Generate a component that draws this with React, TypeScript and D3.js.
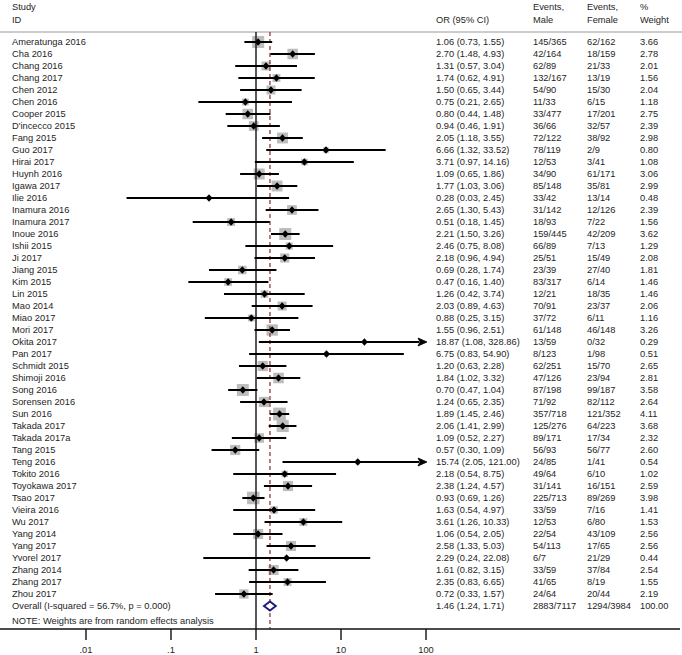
import * as d3 from "d3";
import { useEffect, useRef } from "react";

const studies = [
  "Ameratunga 2016", "Cha 2016", "Chang 2016", "Chang 2017", "Chen 2012", "Chen 2016",
  "Cooper 2015", "D'incecco 2015", "Fang 2015", "Guo 2017", "Hirai 2017", "Huynh 2016",
  "Igawa 2017", "Ilie 2016", "Inamura 2016", "Inamura 2017", "Inoue 2016", "Ishii 2015",
  "Ji 2017", "Jiang 2015", "Kim 2015", "Lin 2015", "Mao 2014", "Miao 2017", "Mori 2017",
  "Okita 2017", "Pan 2017", "Schmidt 2015", "Shimoji 2016", "Song 2016", "Sorensen 2016",
  "Sun 2016", "Takada 2017", "Takada 2017a", "Tang 2015", "Teng 2016", "Tokito 2016",
  "Toyokawa 2017", "Tsao 2017", "Vieira 2016", "Wu 2017", "Yang 2014", "Yang 2017",
  "Yvorel 2017", "Zhang 2014", "Zhang 2017", "Zhou 2017",
];

const oddsRatio = [
  1.06, 2.70, 1.31, 1.74, 1.50, 0.75, 0.80, 0.94, 2.05, 6.66, 3.71, 1.09, 1.77, 0.28, 2.65,
  0.51, 2.21, 2.46, 2.18, 0.69, 0.47, 1.26, 2.03, 0.88, 1.55, 18.87, 6.75, 1.20, 1.84, 0.70,
  1.24, 1.89, 2.06, 1.09, 0.57, 15.74, 2.18, 2.38, 0.93, 1.63, 3.61, 1.06, 2.58, 2.29, 1.61,
  2.35, 0.72,
];
const ciLow = [
  0.73, 1.48, 0.57, 0.62, 0.65, 0.21, 0.44, 0.46, 1.18, 1.32, 0.97, 0.65, 1.03, 0.03, 1.30,
  0.18, 1.50, 0.75, 0.96, 0.28, 0.16, 0.42, 0.89, 0.25, 0.96, 1.08, 0.83, 0.63, 1.02, 0.47,
  0.65, 1.45, 1.41, 0.52, 0.30, 2.05, 0.54, 1.24, 0.69, 0.54, 1.26, 0.54, 1.33, 0.24, 0.82,
  0.83, 0.33,
];
const ciHigh = [
  1.55, 4.93, 3.04, 4.91, 3.44, 2.65, 1.48, 1.91, 3.55, 33.52, 14.16, 1.86, 3.06, 2.45, 5.43,
  1.45, 3.26, 8.08, 4.94, 1.74, 1.40, 3.74, 4.63, 3.15, 2.51, 328.86, 54.90, 2.28, 3.32, 1.04,
  2.35, 2.46, 2.99, 2.27, 1.09, 121.00, 8.75, 4.57, 1.26, 4.97, 10.33, 2.05, 5.03, 22.08, 3.15,
  6.65, 1.57,
];
const eventsMale = [
  "145/365", "42/164", "62/89", "132/167", "54/90", "11/33", "33/477", "36/66", "72/122",
  "78/119", "12/53", "34/90", "85/148", "33/42", "31/142", "18/93", "159/445", "66/89",
  "25/51", "23/39", "83/317", "12/21", "70/91", "37/72", "61/148", "13/59", "8/123",
  "62/251", "47/126", "87/198", "71/92", "357/718", "125/276", "89/171", "56/93", "24/85",
  "49/64", "31/141", "225/713", "33/59", "12/53", "22/54", "54/113", "6/7", "33/59",
  "41/65", "24/64",
];
const eventsFemale = [
  "62/162", "18/159", "21/33", "13/19", "15/30", "6/15", "17/201", "32/57", "38/92", "2/9",
  "3/41", "61/171", "35/81", "13/14", "12/126", "7/22", "42/209", "7/13", "15/49", "27/40",
  "6/14", "18/35", "23/37", "6/11", "46/148", "0/32", "1/98", "15/70", "23/94", "99/187",
  "82/112", "121/352", "64/223", "17/34", "56/77", "1/41", "6/10", "16/151", "89/269",
  "7/16", "6/80", "43/109", "17/65", "21/29", "37/84", "8/19", "20/44",
];
const weights = [
  3.66, 2.78, 2.01, 1.56, 2.04, 1.18, 2.75, 2.39, 2.98, 0.80, 1.08, 3.06, 2.99, 0.48, 2.39,
  1.56, 3.62, 1.29, 2.08, 1.81, 1.46, 1.46, 2.06, 1.16, 3.26, 0.29, 0.51, 2.65, 2.81, 3.58,
  2.64, 4.11, 3.68, 2.32, 2.60, 0.54, 1.02, 2.59, 3.98, 1.41, 1.53, 2.56, 2.56, 0.44, 2.54,
  1.55, 2.19,
];

const overallLabel = "Overall  (I-squared = 56.7%, p = 0.000)";
const overall = { or: 1.46, lo: 1.24, hi: 1.71, male: "2883/7117", female: "1294/3984", weight: "100.00" };
const axisTicks = [0.01, 0.1, 1, 10, 100];
const tickLabels = [".01", ".1", "1", "10", "100"];
const note = "NOTE: Weights are from random effects analysis";

export default function App() {
  const ref = useRef<SVGSVGElement>(null);

  useEffect(() => {
    document.body.style.margin = "0";
    const width = 682;
    const font = "'Liberation Sans', Arial, sans-serif";
    const fs = 9.3;
    const textColor = "#1e1e1e";

    const svg = d3.select(ref.current);
    svg.selectAll("*").remove();

    const x = d3.scaleLog().domain([0.01, 100]).range([86, 426]);
    const rows = d3.range(studies.length + 1);
    const y = d3.scalePoint<number>().domain(rows).range([42, 606]);
    const overallY = y(studies.length)!;
    const topY = 32;
    const axisY = 629;

    const cols = { study: 12, or: 436, male: 533, female: 587, weight: 640 };

    const txt = (g: any, tx: number, ty: number, s: string, anchor = "start") =>
      g.append("text")
        .attr("x", tx).attr("y", ty).attr("dy", "0.35em")
        .attr("text-anchor", anchor)
        .attr("font-family", font).attr("font-size", fs)
        .attr("fill", textColor)
        .text(s);

    // header
    const head = svg.append("g");
    txt(head, cols.study, 7, "Study");
    txt(head, cols.study, 20, "ID");
    txt(head, cols.or, 20, "OR (95% CI)");
    txt(head, cols.male, 7, "Events,");
    txt(head, cols.male, 20, "Male");
    txt(head, cols.female, 7, "Events,");
    txt(head, cols.female, 20, "Female");
    txt(head, cols.weight, 7, "%");
    txt(head, cols.weight, 20, "Weight");

    svg.append("line")
      .attr("x1", 0).attr("x2", width)
      .attr("y1", topY).attr("y2", topY)
      .attr("stroke", "#9a9a9a").attr("stroke-width", 1);

    // weight boxes (area ~ weight)
    svg.append("g").selectAll("rect")
      .data(studies)
      .join("rect")
      .attr("x", (d, i) => x(oddsRatio[i]) - 3.15 * Math.sqrt(weights[i]))
      .attr("y", (d, i) => y(i)! - 3.15 * Math.sqrt(weights[i]))
      .attr("width", (d, i) => 6.3 * Math.sqrt(weights[i]))
      .attr("height", (d, i) => 6.3 * Math.sqrt(weights[i]))
      .attr("fill", "#bdbdbd");

    // reference lines
    svg.append("line")
      .attr("x1", x(1)).attr("x2", x(1))
      .attr("y1", topY).attr("y2", axisY)
      .attr("stroke", "#111").attr("stroke-width", 1.4);

    svg.append("line")
      .attr("x1", x(overall.or)).attr("x2", x(overall.or))
      .attr("y1", topY).attr("y2", axisY)
      .attr("stroke", "#8b2a2a").attr("stroke-width", 1.2)
      .attr("stroke-dasharray", "4,3");

    // confidence intervals + point estimates
    const maxX = x.domain()[1];
    const ci = svg.append("g");
    studies.forEach((s, i) => {
      const yy = y(i)!;
      const clipped = ciHigh[i] > maxX;
      const x2 = clipped ? x(maxX) - 7 : x(ciHigh[i]);
      ci.append("line")
        .attr("x1", x(ciLow[i])).attr("x2", x2)
        .attr("y1", yy).attr("y2", yy)
        .attr("stroke", "#000").attr("stroke-width", 2);
      if (clipped) {
        const tip = x(maxX) + 1;
        ci.append("path")
          .attr("d", `M${tip},${yy} L${tip - 9},${yy - 4} L${tip - 7},${yy} L${tip - 9},${yy + 4} Z`)
          .attr("fill", "#000").attr("stroke", "#000").attr("stroke-width", 0.8);
      }
      const px = x(oddsRatio[i]);
      ci.append("path")
        .attr("d", `M${px - 3.4},${yy} L${px},${yy - 3.7} L${px + 3.4},${yy} L${px},${yy + 3.7} Z`)
        .attr("fill", "#000");
    });

    // overall diamond
    svg.append("path")
      .attr("d", `M${x(overall.lo)},${overallY} L${x(overall.or)},${overallY - 4.5} L${x(overall.hi)},${overallY} L${x(overall.or)},${overallY + 4.5} Z`)
      .attr("fill", "#fff")
      .attr("stroke", "#1c1c78").attr("stroke-width", 1.9);

    // row text
    const rowText = svg.append("g");
    studies.forEach((s, i) => {
      const yy = y(i)!;
      txt(rowText, cols.study, yy, s);
      txt(rowText, cols.or, yy, `${oddsRatio[i].toFixed(2)} (${ciLow[i].toFixed(2)}, ${ciHigh[i].toFixed(2)})`);
      txt(rowText, cols.male, yy, eventsMale[i]);
      txt(rowText, cols.female, yy, eventsFemale[i]);
      txt(rowText, cols.weight, yy, weights[i].toFixed(2));
    });
    txt(rowText, cols.study, overallY, overallLabel);
    txt(rowText, cols.or, overallY, `${overall.or.toFixed(2)} (${overall.lo.toFixed(2)}, ${overall.hi.toFixed(2)})`);
    txt(rowText, cols.male, overallY, overall.male);
    txt(rowText, cols.female, overallY, overall.female);
    txt(rowText, cols.weight, overallY, overall.weight);
    txt(rowText, cols.study, 621, note);

    // x axis
    const axis = svg.append("g");
    axis.append("line")
      .attr("x1", 0).attr("x2", 680)
      .attr("y1", axisY).attr("y2", axisY)
      .attr("stroke", "#111").attr("stroke-width", 1.4);
    axisTicks.forEach((t, i) => {
      axis.append("line")
        .attr("x1", x(t)).attr("x2", x(t))
        .attr("y1", axisY).attr("y2", axisY + 11)
        .attr("stroke", "#111").attr("stroke-width", 1.4);
      txt(axis, x(t), 650, tickLabels[i], "middle");
    });
  }, []);

  return <svg ref={ref} width={682} height={655} style={{ display: "block", background: "#fff" }} />;
}
